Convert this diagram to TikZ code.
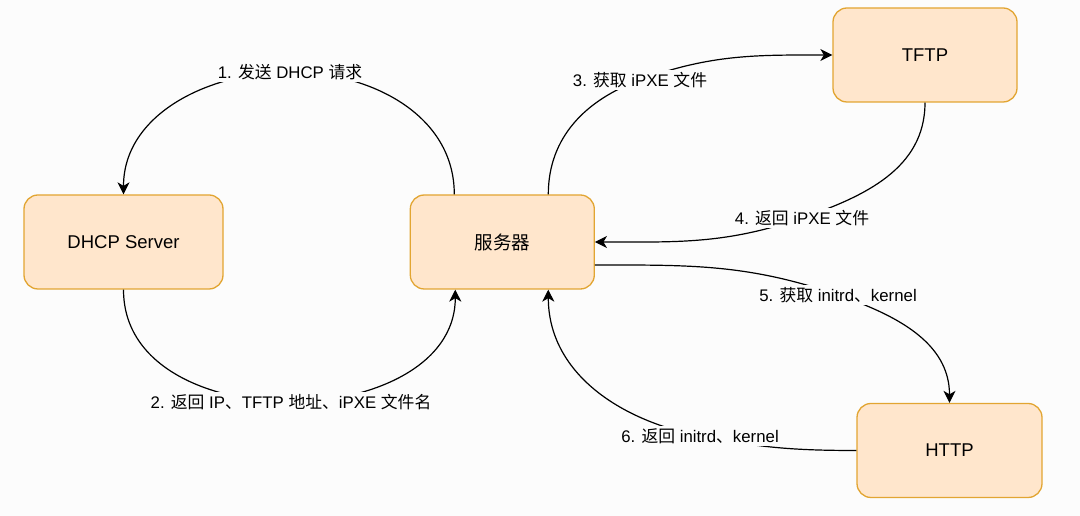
\documentclass[tikz,border=0pt]{standalone}
\usepackage{fontspec}
\setmainfont{Liberation Sans}
\newfontfamily\zhfont{Noto Sans CJK SC}
\newcommand{\zh}[1]{{\zhfont #1}}
\usetikzlibrary{arrows.meta,positioning}
\definecolor{Paper}{HTML}{FCFCFC}
\definecolor{BoxFill}{HTML}{FFE6CC}
\definecolor{BoxLine}{HTML}{E2A532}

\begin{document}
\begin{tikzpicture}[
  x=1pt,y=1pt,
  node distance=186pt,
  every node/.style={font=\fontsize{16.8}{20}\selectfont},
  box/.style={draw=BoxLine,line width=1.3pt,rounded corners=14pt,fill=BoxFill,minimum height=94pt,font=\fontsize{18.5}{22}\selectfont},
  lbl/.style={fill=Paper,inner sep=2pt},
  arr/.style={-{Stealth[length=12pt,width=12pt,inset=3.5pt]},line width=1.2pt,color=black}
]
\fill[Paper] (0,0) rectangle (1080,516);
\useasboundingbox (0,0) rectangle (1080,516);
\node[box,minimum width=199pt] (dhcp) at (123.5,274) {DHCP Server};
\node[box,minimum width=184pt,right=of dhcp] (srv) {\zh{服务器}};
\node[box,minimum width=184pt] (tftp) at (925,461) {TFTP};
\node[box,minimum width=185pt] (http) at (949.5,65.5) {HTTP};
% curved connectors, label sits on the curve
\draw[arr] ([xshift=-48pt]srv.north) to[out=90,in=0] (290,444) node[lbl] {1. \zh{发送} DHCP \zh{请求}} to[out=180,in=90] (dhcp.north);
\draw[arr] (dhcp.south) to[out=-90,in=180] (291,114) node[lbl] {2. \zh{返回} IP\zh{、}TFTP \zh{地址、}iPXE \zh{文件名}} to[out=0,in=-90] ([xshift=-47pt]srv.south);
\draw[arr] ([xshift=46pt]srv.north) to[out=90,in=200] (640,436) node[lbl] {3. \zh{获取} iPXE \zh{文件}} to[out=20,in=180] (tftp.west);
\draw[arr] (tftp.south) to[out=-90,in=19] (802,298) node[lbl] {4. \zh{返回} iPXE \zh{文件}} to[out=199,in=0] (srv.east);
\draw[arr] ([yshift=-23pt]srv.east) to[out=0,in=161] (838,221) node[lbl] {5. \zh{获取} initrd\zh{、}kernel} to[out=-19,in=90] (http.north);
\draw[arr] (http.west) to[out=180,in=-11] (700,80) node[lbl] {6. \zh{返回} initrd\zh{、}kernel} to[out=169,in=-90] ([xshift=46pt]srv.south);
\end{tikzpicture}
\end{document}
